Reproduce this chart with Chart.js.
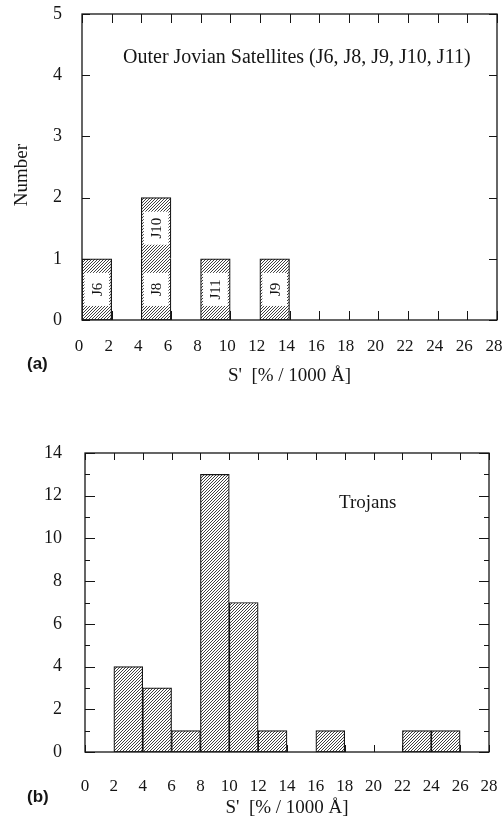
<!DOCTYPE html>
<html>
<head>
<meta charset="utf-8">
<title>S' histograms</title>
<script src="https://cdn.jsdelivr.net/npm/chart.js"></script>
<style>
  body { margin: 0; background: #fff; width: 504px; height: 816px; position: relative; overflow: hidden; }
  canvas { position: absolute; left: 0; }
  #chartA { top: 0; }
  #chartB { top: 400px; }
</style>
</head>
<body>
<canvas id="chartA" width="504" height="400"></canvas>
<canvas id="chartB" width="504" height="416"></canvas>
<script>
// 2-unit bins from 0 to 28
const binLabels = ['0-2', '2-4', '4-6', '6-8', '8-10', '10-12', '12-14',
                   '14-16', '16-18', '18-20', '20-22', '22-24', '24-26', '26-28'];

// (a) outer Jovian satellites, one box per object, stacked
const satLower      = [1, 0, 1, 0, 1, 0, 1, 0, 0, 0, 0, 0, 0, 0];
const satUpper      = [0, 0, 1, 0, 0, 0, 0, 0, 0, 0, 0, 0, 0, 0];
const satLowerNames = ['J6', '', 'J8', '', 'J11', '', 'J9', '', '', '', '', '', '', ''];
const satUpperNames = ['', '', 'J10', '', '', '', '', '', '', '', '', '', '', ''];

// (b) Trojans
const trojanCounts = [0, 4, 3, 1, 13, 7, 1, 0, 1, 0, 0, 1, 1, 0];

const serif = "'Liberation Serif', 'DejaVu Serif', serif";
const ink = '#151515';

function hatch(ctx) {
  const n = 3;
  const c = document.createElement('canvas');
  c.width = c.height = n;
  const g = c.getContext('2d');
  g.fillStyle = '#fff';
  g.fillRect(0, 0, n, n);
  g.strokeStyle = '#2a2a2a';
  g.lineWidth = 0.9;
  g.beginPath();
  g.moveTo(0, n); g.lineTo(n, 0);
  g.moveTo(-1, 1); g.lineTo(1, -1);
  g.moveTo(n - 1, n + 1); g.lineTo(n + 1, n - 1);
  g.stroke();
  return ctx.createPattern(c, 'repeat');
}

const noNull = arr => arr.map(v => v === 0 ? null : v);

// frame with inward ticks on all four sides
const frame = {
  id: 'frame',
  beforeDatasetsDraw(chart, args, o) {
    const { ctx, chartArea: a } = chart;
    const xl = chart.scales.xl;
    ctx.save();
    ctx.strokeStyle = ink;
    ctx.lineWidth = 1;
    ctx.beginPath();
    for (let v = 0; v <= 28; v += 2) {
      const px = Math.round(xl.getPixelForValue(v)) + 0.5;
      ctx.moveTo(px, a.bottom); ctx.lineTo(px, a.bottom - o.xLen);
    }
    ctx.stroke();
    ctx.restore();
  },
  afterDatasetsDraw(chart, args, o) {
    const { ctx, chartArea: a } = chart;
    const xl = chart.scales.xl, y = chart.scales.y;
    ctx.save();
    ctx.strokeStyle = ink;
    ctx.lineWidth = 1;
    ctx.beginPath();
    for (let v = 0; v <= 28; v += 2) {
      const px = Math.round(xl.getPixelForValue(v)) + 0.5;
      ctx.moveTo(px, a.top); ctx.lineTo(px, a.top + o.xLen);
    }
    for (let v = y.min; v <= y.max; v += o.yMinor) {
      const py = Math.round(y.getPixelForValue(v)) + 0.5;
      const len = (v % o.yMajor === 0) ? o.yLen : o.yLen / 2;
      ctx.moveTo(a.left, py); ctx.lineTo(a.left + len, py);
      ctx.moveTo(a.right, py); ctx.lineTo(a.right - len, py);
    }
    ctx.stroke();
    ctx.lineWidth = 1.3;
    ctx.strokeRect(a.left, a.top, a.right - a.left, a.bottom - a.top);
    ctx.restore();
  }
};

// free text: panel letter, y title and in-plot caption
const notes = {
  id: 'notes',
  afterDraw(chart, args, o) {
    const { ctx } = chart;
    ctx.save();
    ctx.fillStyle = ink;
    ctx.textBaseline = 'middle';
    ctx.font = "bold 17px 'Liberation Sans', Arial, sans-serif";
    ctx.fillText(o.panel, 27, o.panelY);
    ctx.font = o.capSize + 'px ' + serif;
    ctx.fillText(o.caption, o.capX, o.capY);
    ctx.translate(o.yTitleX, o.yTitleY);
    ctx.rotate(-Math.PI / 2);
    ctx.textAlign = 'center';
    ctx.font = o.yTitleSize + 'px ' + serif;
    ctx.fillText('Number', 0, 0);
    ctx.restore();
  }
};

// white windows with rotated names inside the satellite boxes
const boxNames = {
  id: 'boxNames',
  afterDatasetsDraw(chart) {
    const { ctx } = chart;
    chart.data.datasets.forEach((ds, i) => {
      if (!ds.names) return;
      chart.getDatasetMeta(i).data.forEach((el, j) => {
        const name = ds.names[j];
        if (!name) return;
        const p = el.getProps(['x', 'y', 'base', 'width'], true);
        const h = p.base - p.y;
        const x0 = p.x - p.width / 2 + 2.5, w = p.width - 5;
        const y0 = p.y + h * 0.23, hh = h * 0.54;
        ctx.save();
        ctx.fillStyle = '#fff';
        ctx.fillRect(x0, y0, w, hh);
        ctx.translate(p.x, y0 + hh / 2);
        ctx.rotate(-Math.PI / 2);
        ctx.fillStyle = ink;
        ctx.font = '15px ' + serif;
        ctx.textAlign = 'center';
        ctx.textBaseline = 'middle';
        ctx.fillText(name, 0, 1);
        ctx.restore();
      });
    });
  }
};

function fixY(w) {
  return s => { s.width = w; s.paddingTop = 0; s.paddingBottom = 0; };
}
function fixX(h) {
  return s => { s.height = h; s.paddingLeft = 0; s.paddingRight = 0; };
}

function makeChart(id, datasets, yMax, yStep, geo, frameOpts, noteOpts) {
  const ctx = document.getElementById(id).getContext('2d');
  datasets.forEach(d => { d.backgroundColor = hatch(ctx); });
  return new Chart(ctx, {
    type: 'bar',
    data: { labels: binLabels, datasets: datasets },
    options: {
      responsive: false,
      animation: false,
      events: [],
      layout: { padding: { left: 0, right: geo.right, top: geo.top, bottom: 0 } },
      plugins: {
        legend: { display: false },
        tooltip: { enabled: false },
        frame: frameOpts,
        notes: noteOpts
      },
      scales: {
        x: { display: false, stacked: true },
        xl: {
          type: 'linear', position: 'bottom', min: 0, max: 28, offset: false,
          afterFit: fixX(geo.xH),
          grid: { display: false, drawTicks: false },
          border: { display: false },
          ticks: { stepSize: 2, padding: geo.xPad, labelOffset: geo.xShift, color: ink,
                   font: { family: serif, size: 17 } },
          title: { display: true, text: "S'  [% / 1000 Å]", color: ink,
                   font: { family: serif, size: 19 }, padding: { top: 0, bottom: geo.xTitlePad } }
        },
        y: {
          stacked: true, min: 0, max: yMax,
          afterFit: fixY(geo.left),
          grid: { display: false, drawTicks: false },
          border: { display: false },
          ticks: { stepSize: yStep, padding: geo.yPad, color: ink, font: { family: serif, size: 18 } }
        }
      }
    },
    plugins: [frame, boxNames, notes]
  });
}

const barStyle = { borderColor: ink, barPercentage: 1, categoryPercentage: 1, borderSkipped: false };
const edge = 1.2;

makeChart('chartA', [
  Object.assign({ label: 'lower', data: noNull(satLower), names: satLowerNames,
    borderWidth: c => satUpper[c.dataIndex] ? { left: edge, right: edge, bottom: edge, top: 0 } : edge }, barStyle),
  Object.assign({ label: 'upper', data: noNull(satUpper), names: satUpperNames,
    borderWidth: { left: edge, right: edge, bottom: 0, top: edge } }, barStyle)
], 5, 1,
  { left: 82, right: 7, top: 14, xH: 80, xPad: 16, xShift: -3, xTitlePad: 13, yPad: 20 },
  { xLen: 9, yLen: 8, yMajor: 1, yMinor: 1 },
  { panel: '(a)', panelY: 364, caption: 'Outer Jovian Satellites (J6, J8, J9, J10, J11)',
    capSize: 20, capX: 123, capY: 58, yTitleX: 22, yTitleY: 175, yTitleSize: 19 });

makeChart('chartB', [
  Object.assign({ label: 'Trojans', data: noNull(trojanCounts), borderWidth: edge }, barStyle)
], 14, 2,
  { left: 85, right: 15, top: 53, xH: 64, xPad: 24, xShift: 0, xTitlePad: -3, yPad: 23 },
  { xLen: 7, yLen: 10, yMajor: 2, yMinor: 1 },
  { panel: '(b)', panelY: 397, caption: 'Trojans',
    capSize: 19, capX: 339, capY: 103, yTitleX: 12, yTitleY: 612, yTitleSize: 17 });
</script>
</body>
</html>
